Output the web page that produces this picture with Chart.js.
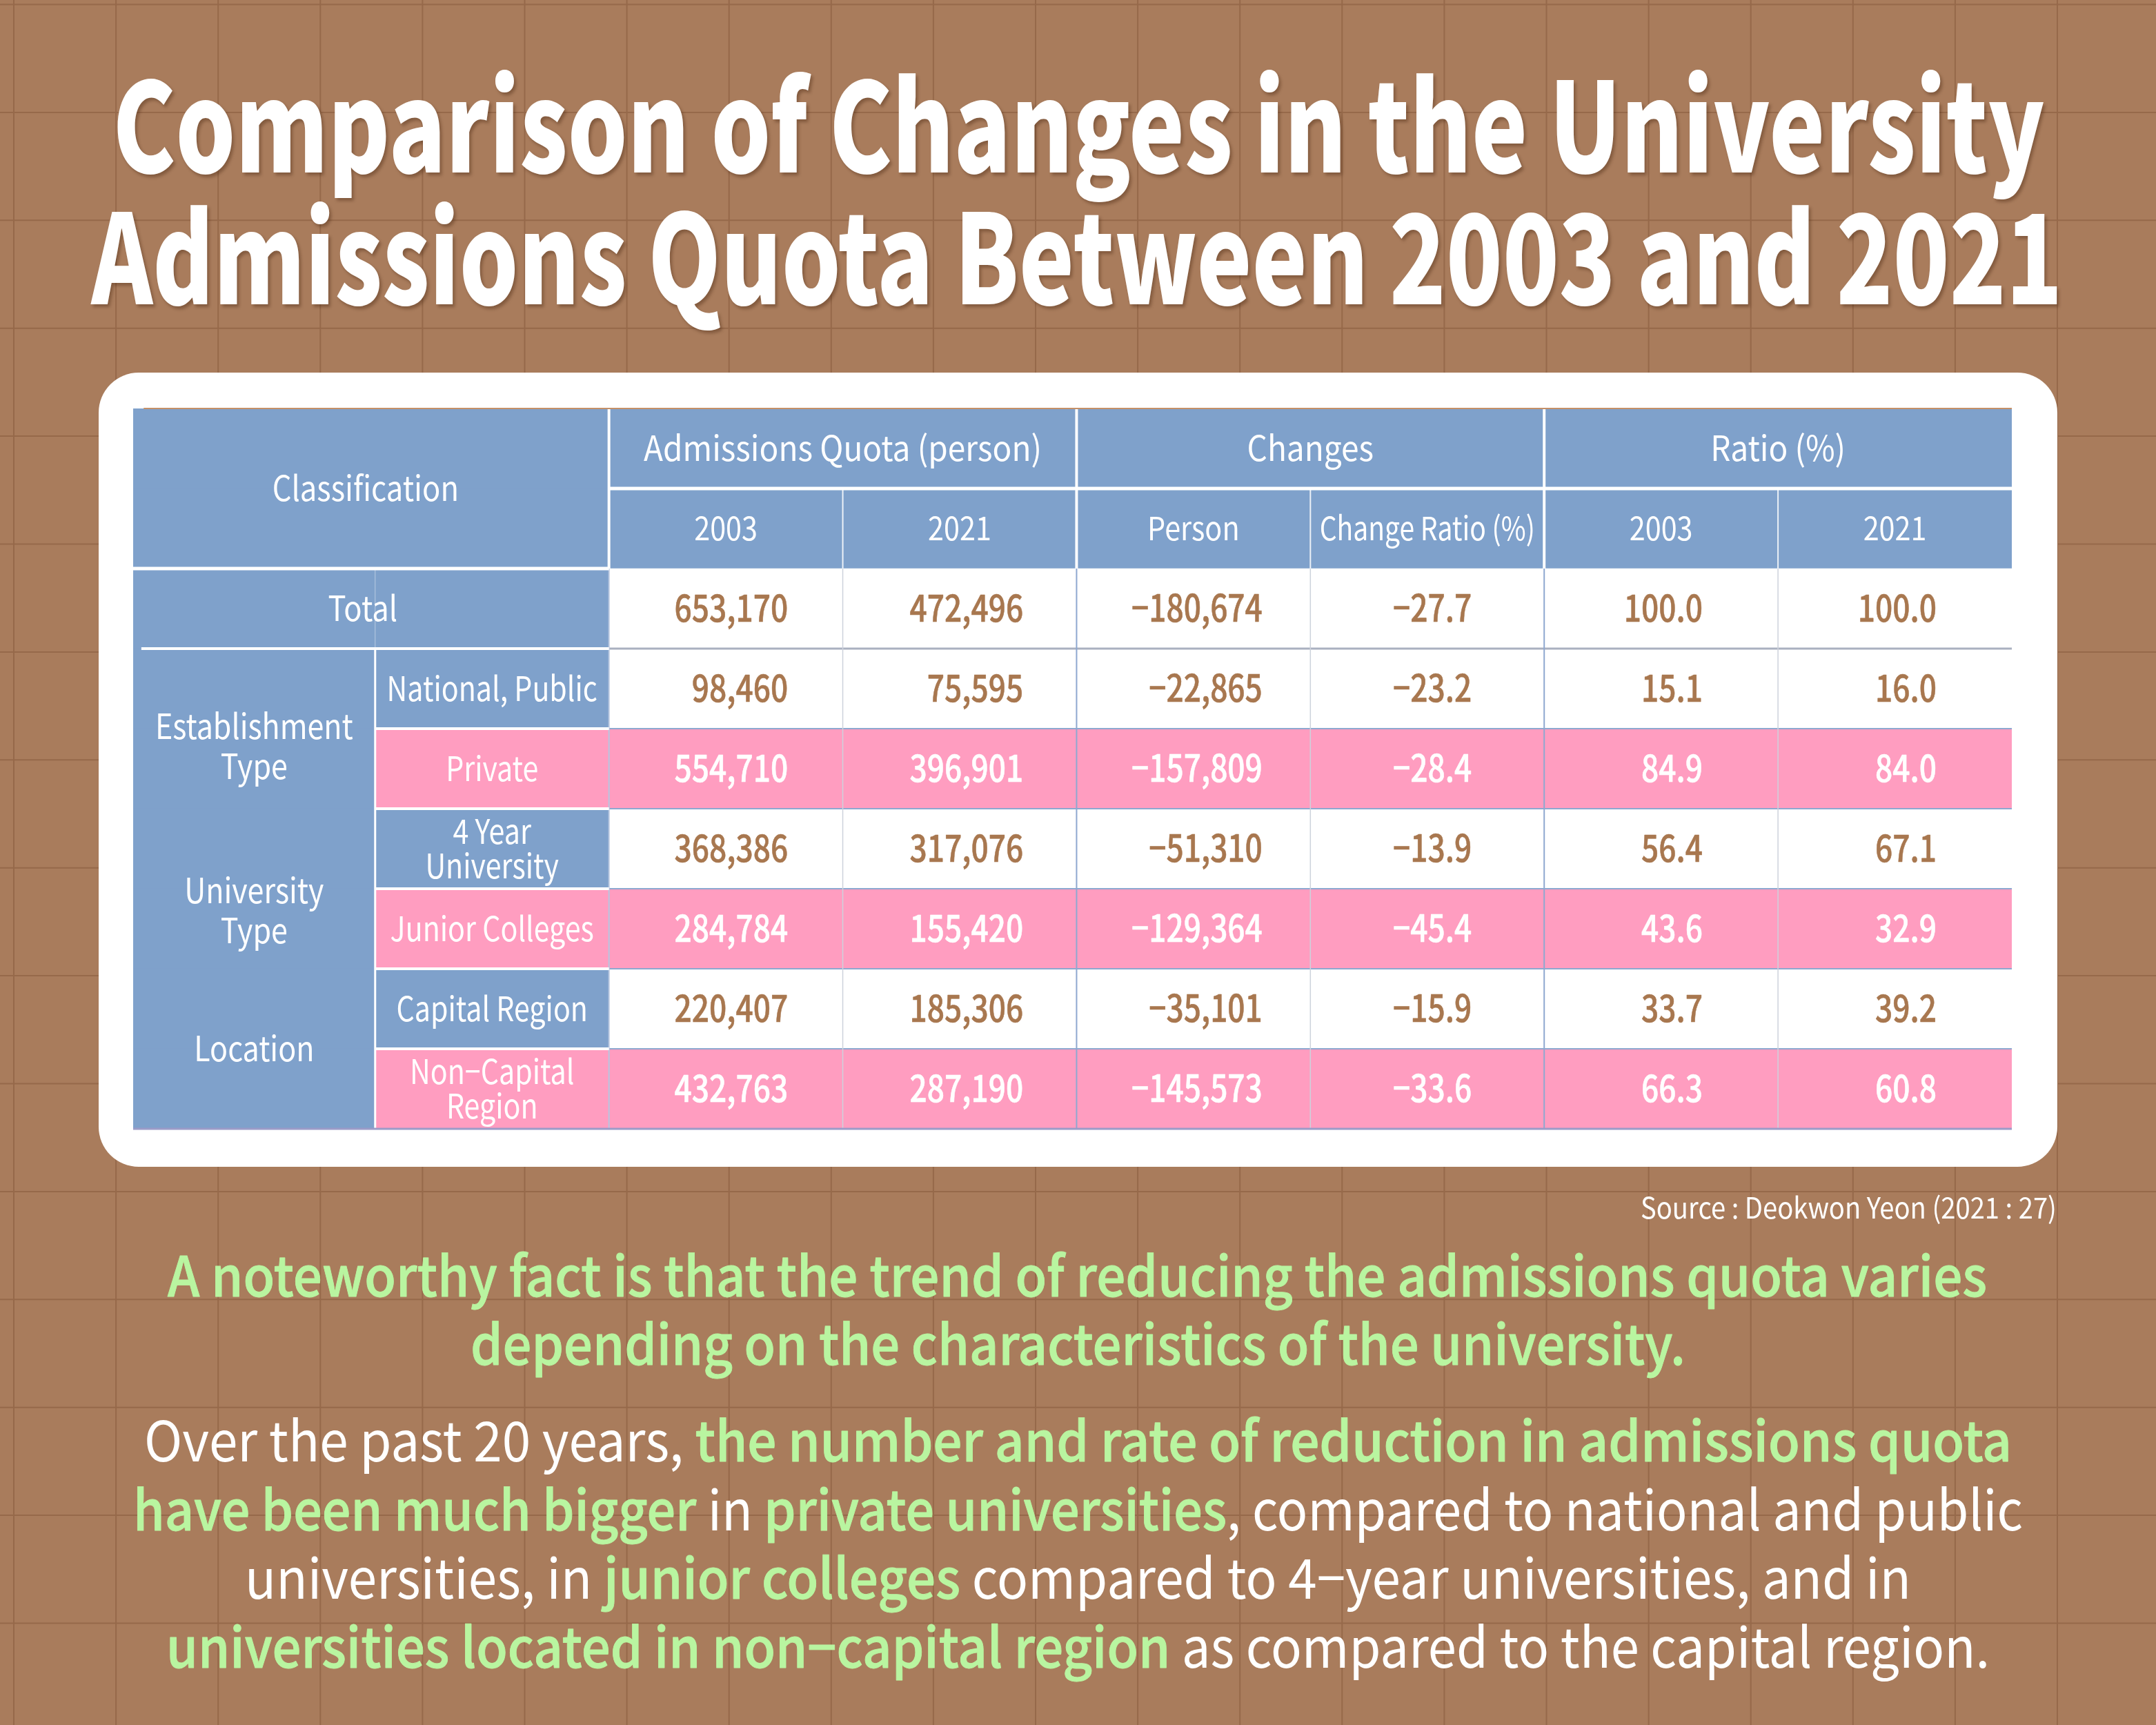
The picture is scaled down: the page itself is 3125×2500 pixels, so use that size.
<!DOCTYPE html>
<html>
<head>
<meta charset="utf-8">
<script src="https://cdn.jsdelivr.net/npm/chart.js@4.4.1/dist/chart.umd.min.js"></script>
<style>
  html, body { margin: 0; padding: 0; background: #a97c5c; }
  #wrap { width: 3125px; height: 2500px; }
</style>
</head>
<body>
<div id="wrap"><canvas id="c" width="3125" height="2500" style="width:3125px;height:2500px"></canvas></div>
<script>
// ---------------- DATA ----------------
const titleLines = ["Comparison of Changes in the University", "Admissions Quota Between 2003 and 2021"];
const headerCorner = "Classification";
const headerTop = ["Admissions Quota (person)", "Changes", "Ratio (%)"];
const headerSub = ["2003", "2021", "Person", "Change Ratio (%)", "2003", "2021"];
const totalLabel = "Total";
const groupLabels = [["Establishment", "Type"], ["University", "Type"], ["Location"]];
const subLabels = [["National, Public"], ["Private"], ["4 Year", "University"], ["Junior Colleges"], ["Capital Region"], ["Non\u2212Capital", "Region"]];
const highlighted = [false, false, true, false, true, false, true]; // Total, National, Private, 4yr, Junior, Capital, Non-capital

const quota2003 = [653170, 98460, 554710, 368386, 284784, 220407, 432763];
const quota2021 = [472496, 75595, 396901, 317076, 155420, 185306, 287190];
const changePerson = [-180674, -22865, -157809, -51310, -129364, -35101, -145573];
const changeRatio = [-27.7, -23.2, -28.4, -13.9, -45.4, -15.9, -33.6];
const ratio2003 = [100.0, 15.1, 84.9, 56.4, 43.6, 33.7, 66.3];
const ratio2021 = [100.0, 16.0, 84.0, 67.1, 32.9, 39.2, 60.8];

const sourceText = "Source : Deokwon Yeon (2021 : 27)";
const highlightLines = ["A noteworthy fact is that the trend of reducing the admissions quota varies", "depending on the characteristics of the university."];
// paragraph: segments [text, isGreen]
const paragraph = [
  [["Over the past 20 years, ", false], ["the number and rate of reduction in admissions quota", true]],
  [["have been much bigger", true], [" in ", false], ["private universities", true], [", compared to national and public", false]],
  [["universities, in ", false], ["junior colleges", true], [" compared to 4\u2212year universities, and in", false]],
  [["universities located in non\u2212capital region", true], [" as compared to the capital region.", false]]
];

// ---------------- STYLE ----------------
const BG = '#a97c5c', GRID = '#96694a', BLUE = '#7fa1cb', PINK = '#ff9dc0', NUM = '#a8774f', GREEN = '#b9f5a0';
const FONT = '"Noto Sans CJK KR", "Noto Sans", sans-serif';
const X0 = -0.035; // first column is slightly wider

const fmtInt = v => (v < 0 ? '\u2212' : '') + Math.abs(v).toLocaleString('en-US');
const fmtDec = v => (v < 0 ? '\u2212' : '') + Math.abs(v).toFixed(1);
const dataCols = [quota2003.map(fmtInt), quota2021.map(fmtInt), changePerson.map(fmtInt), changeRatio.map(fmtDec), ratio2003.map(fmtDec), ratio2021.map(fmtDec)];

function fitSegments(ctx, segs, cx, y, target, size) {
  const widths = segs.map(s => { ctx.font = `${s.weight} ${size}px ${FONT}`; return ctx.measureText(s.t).width; });
  const total = widths.reduce((a, b) => a + b, 0);
  const sx = target / total;
  ctx.save();
  ctx.translate(cx - target / 2, y);
  ctx.scale(sx, 1);
  ctx.textAlign = 'left';
  ctx.textBaseline = 'alphabetic';
  ctx.lineJoin = 'round';
  let x = 0;
  segs.forEach((s, i) => {
    ctx.font = `${s.weight} ${size}px ${FONT}`;
    ctx.fillStyle = s.color;
    ctx.fillText(s.t, x, 0);
    if (s.stroke) { ctx.strokeStyle = s.color; ctx.lineWidth = s.stroke; ctx.strokeText(s.t, x, 0); }
    x += widths[i];
  });
  ctx.restore();
}

// ---------------- ROWS / DATASETS ----------------
const rowIds = ['h1', 'h2', 'total', 'national', 'private', 'four', 'junior', 'capital', 'noncap'];
const rowBg = rowIds.map((r, i) => i < 2 ? BLUE : (highlighted[i - 2] ? PINK : '#ffffff'));
const groupColData = rowIds.map((r, i) => i < 2 ? null : (i === 2 ? [X0, 2] : [X0, 1]));
const labelColData = rowIds.map((r, i) => i < 3 ? null : [1, 2]);
const labelColBg = rowIds.map((r, i) => i < 3 ? BLUE : (highlighted[i - 2] ? PINK : BLUE));

const backgroundPlugin = {
  id: 'page',
  beforeDraw(chart) {
    const ctx = chart.ctx;
    ctx.save();
    ctx.fillStyle = BG;
    ctx.fillRect(0, 0, 3125, 2500);
    ctx.strokeStyle = GRID;
    ctx.lineWidth = 2;
    for (let x = 20; x < 3125; x += 148.1) { ctx.beginPath(); ctx.moveTo(x, 0); ctx.lineTo(x, 2500); ctx.stroke(); }
    for (let y = 6.5; y < 2500; y += 156.4) { ctx.beginPath(); ctx.moveTo(0, y); ctx.lineTo(3125, y); ctx.stroke(); }
    // title
    ctx.shadowColor = 'rgba(60,30,10,0.35)';
    ctx.shadowOffsetX = 3; ctx.shadowOffsetY = 4; ctx.shadowBlur = 4;
    fitSegments(ctx, [{ t: titleLines[0], color: '#ffffff', weight: 900 }], 1563.5, 250, 2800, 180);
    fitSegments(ctx, [{ t: titleLines[1], color: '#ffffff', weight: 900 }], 1561, 441, 2857, 180);
    ctx.shadowColor = 'transparent'; ctx.shadowBlur = 0; ctx.shadowOffsetX = 0; ctx.shadowOffsetY = 0;
    // white box
    ctx.fillStyle = '#ffffff';
    ctx.beginPath();
    ctx.roundRect(143, 540, 2839, 1151, 58);
    ctx.fill();
    // source
    fitSegments(ctx, [{ t: sourceText, color: '#ffffff', weight: 400 }], 2679.5, 1766, 603, 42);
    // highlight lines
    const hlBase = [1879, 1978], hlSpan = [[243, 2880], [682, 2443]];
    highlightLines.forEach((t, i) => {
      fitSegments(ctx, [{ t, color: GREEN, weight: 500, stroke: 0.9 }], (hlSpan[i][0] + hlSpan[i][1]) / 2, hlBase[i], hlSpan[i][1] - hlSpan[i][0], 80);
    });
    const pBase = [2118, 2218, 2317, 2417], pSpan = [[209, 2916], [193, 2932], [355, 2770], [241, 2884]];
    paragraph.forEach((line, i) => {
      const segs = line.map(([t, g]) => ({ t, color: g ? GREEN : '#ffffff', weight: g ? 500 : 400, stroke: g ? 0.9 : 0 }));
      fitSegments(ctx, segs, (pSpan[i][0] + pSpan[i][1]) / 2, pBase[i], pSpan[i][1] - pSpan[i][0], 80);
    });
    ctx.restore();
  }
};

const tablePlugin = {
  id: 'tableText',
  afterDatasetsDraw(chart) {
    const ctx = chart.ctx;
    const xs = chart.scales.x, ys = chart.scales.y;
    const band = ys.getPixelForValue(1) - ys.getPixelForValue(0);
    const X = c => xs.getPixelForValue(c);
    const Y = r => ys.getPixelForValue(0) - band / 2 + r * band;
    const colW = X(1) - X(0);
    ctx.save();
    const hLine = (r, c0, c1, color, lw) => { ctx.strokeStyle = color; ctx.lineWidth = lw; ctx.beginPath(); ctx.moveTo(X(c0), Y(r)); ctx.lineTo(X(c1), Y(r)); ctx.stroke(); };
    const vLine = (c, r0, r1, color, lw) => { ctx.strokeStyle = color; ctx.lineWidth = lw; ctx.beginPath(); ctx.moveTo(X(c), Y(r0)); ctx.lineTo(X(c), Y(r1)); ctx.stroke(); };

    // data-area grid
    for (let r = 4; r <= 8; r++) hLine(r, 2, 8, '#8ea8d0', 2);
    hLine(3, 2, 8, '#aab0c0', 3);
    [3, 5, 7].forEach(c => vLine(c, 2, 9, '#cdd2dc', 1.5));
    [4, 6].forEach(c => vLine(c, 2, 9, '#8ea8d0', 2));
    vLine(2, 2, 9, '#b7c6e0', 2);
    // header white separators
    vLine(2, 0, 2, '#ffffff', 4);
    [4, 6].forEach(c => vLine(c, 0, 2, '#ffffff', 4));
    [3, 5, 7].forEach(c => vLine(c, 1, 2, 'rgba(255,255,255,0.85)', 2));
    hLine(1, 2, 8, '#ffffff', 5);
    hLine(2, X0, 2, '#ffffff', 5);
    // left block separators
    hLine(3, 0.0, 2, '#ffffff', 4);
    for (let r = 4; r <= 8; r++) hLine(r, 1, 2, '#ffffff', 4);
    vLine(1, 3, 9, '#ffffff', 3);
    vLine(1, 2, 3, 'rgba(255,255,255,0.45)', 1);
    // outer borders
    hLine(9, X0, 8, '#9b9bc8', 3);
    hLine(0, 0.01, 8, '#c49068', 2);

    const txt = (t, x, yc, size, color, weight, align, sx, stroke) => {
      ctx.save();
      ctx.font = `${weight} ${size}px ${FONT}`;
      ctx.fillStyle = color;
      ctx.textAlign = align || 'center';
      ctx.textBaseline = 'alphabetic';
      ctx.translate(x, yc + size * 0.36);
      ctx.scale(sx || 0.87, 1);
      ctx.fillText(t, 0, 0);
      if (stroke) { ctx.lineJoin = 'round'; ctx.strokeStyle = color; ctx.lineWidth = stroke; ctx.strokeText(t, 0, 0); }
      ctx.restore();
    };
    const LS = 50, NS = 54;
    // header
    txt(headerCorner, (X(X0) + X(2)) / 2 - 8, Y(1), LS, '#fff', 400);
    headerTop.forEach((t, i) => txt(t, (X(2 + 2 * i) + X(4 + 2 * i)) / 2, Y(0.5), LS, '#fff', 400, 'center', 0.92));
    headerSub.forEach((t, i) => txt(t, (X(2 + i) + X(3 + i)) / 2, Y(1.5), 47, '#fff', 400, 'center', i === 3 ? 0.83 : 0.88));
    // left labels
    txt(totalLabel, (X(X0) + X(2)) / 2 - 12, Y(2.5), LS, '#fff', 400);
    const groupY = [[3.97, 4.47], [6.03, 6.53], [8.0]];
    groupLabels.forEach((lines, g) => lines.forEach((t, k) => txt(t, (X(X0) + X(1)) / 2, Y(groupY[g][k]), LS, '#fff', 400, 'center', 0.86)));
    subLabels.forEach((lines, i) => {
      const r = 3 + i + 0.5;
      const n = lines.length;
      lines.forEach((t, k) => txt(t, (X(1) + X(2)) / 2, Y(r) + (k - (n - 1) / 2) * 50, 49, '#fff', 400, 'center', 0.84));
    });
    // numbers
    const pads = [0.234, 0.228, 0.205, 0.31, 0.322, 0.322];
    dataCols.forEach((col, c) => {
      col.forEach((t, i) => {
        const color = highlighted[i] ? '#ffffff' : NUM;
        txt(t, X(3 + c) - pads[c] * colW, Y(2 + i + 0.5), NS, color, 500, 'right', 0.82, 0.6);
      });
    });
    ctx.restore();
  }
};

const barOpts = { grouped: false, barPercentage: 1, categoryPercentage: 1, borderWidth: 0, borderSkipped: false };

new Chart(document.getElementById('c'), {
  type: 'bar',
  data: {
    labels: rowIds,
    datasets: [
      Object.assign({ label: 'rows', data: rowIds.map(() => [X0, 8]), backgroundColor: rowBg, order: 3 }, barOpts),
      Object.assign({ label: 'group', data: groupColData, backgroundColor: BLUE, order: 2 }, barOpts),
      Object.assign({ label: 'labels', data: labelColData, backgroundColor: labelColBg, order: 1 }, barOpts)
    ]
  },
  options: {
    indexAxis: 'y',
    responsive: false,
    animation: false,
    devicePixelRatio: 1,
    layout: { padding: { left: 193, top: 592, right: 209, bottom: 864 } },
    plugins: { legend: { display: false }, tooltip: { enabled: false }, title: { display: false } },
    scales: {
      x: { type: 'linear', min: X0, max: 8, display: false },
      y: { type: 'category', display: false, offset: true }
    },
    events: []
  },
  plugins: [backgroundPlugin, tablePlugin]
});
</script>
</body>
</html>
